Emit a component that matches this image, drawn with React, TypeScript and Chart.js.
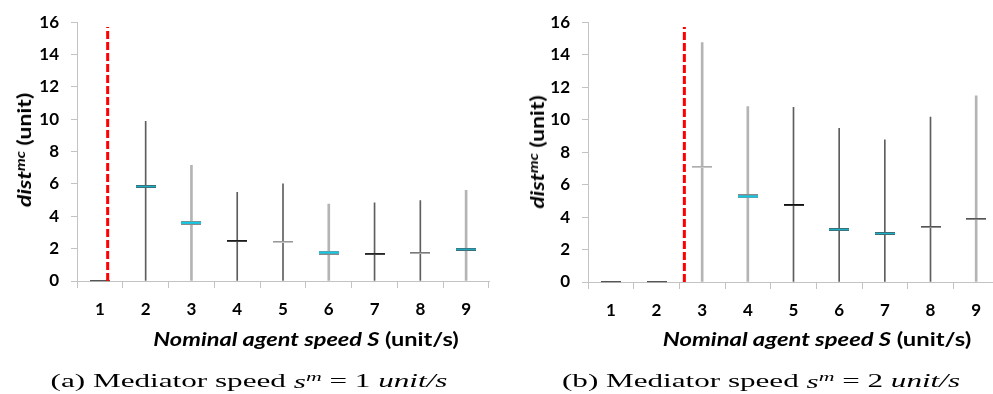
import React, { useEffect, useLayoutEffect, useRef, useState } from 'react';
import { Chart, registerables } from 'chart.js';
Chart.register(...registerables);

// ---------- data ----------
const categories = ['1', '2', '3', '4', '5', '6', '7', '8', '9'];
const yMin = 0;
const yMax = 16;
const yStep = 2;

// panel (a): mediator speed 1
const maxA = [0, 9.87, 7.15, 5.48, 6.0, 4.76, 4.84, 4.97, 5.6];
const meanA = [0, 5.84, 3.6, 2.49, 2.41, 1.76, 1.7, 1.76, 1.96];
const thresholdA = 1.17;

// panel (b): mediator speed 2
const maxB = [0, 0, 14.74, 10.8, 10.76, 9.46, 8.76, 10.15, 11.47];
const meanB = [0, 0, 7.11, 5.27, 4.72, 3.23, 2.99, 3.37, 3.86];
const thresholdB = 2.61;

const thresholdTop = 15.7;

// ---------- styles (kept apart from data) ----------
const whiskerStyleA = ['none', 'dark', 'light', 'dark', 'dark', 'light', 'dark', 'dark', 'light'];
const markStyleA = ['dark', 'teal', 'cyan', 'black', 'gray', 'cyan', 'black', 'dark', 'teal'];
const whiskerStyleB = ['none', 'none', 'light', 'light', 'dark', 'dark', 'dark', 'dark', 'light'];
const markStyleB = ['dark', 'dark', 'gray', 'cyan', 'black', 'teal', 'teal', 'dark', 'dark'];

function makeMark(kind: string): HTMLCanvasElement {
  const c = document.createElement('canvas');
  const w = 20;
  let rows: string[] = [];
  if (kind === 'cyan') rows = ['#8a8a8a', '#10cbe8', '#10cbe8', '#8a8a8a'];
  else if (kind === 'teal') rows = ['#3d6f78', '#1ab3c9', '#3d6f78'];
  else if (kind === 'black') rows = ['#111111', '#444444'];
  else if (kind === 'gray') rows = ['#9a9a9a', '#c8c8c8'];
  else rows = ['#555555', '#aaaaaa'];
  c.width = w;
  c.height = rows.length;
  const ctx = c.getContext('2d')!;
  rows.forEach((col, i) => {
    ctx.fillStyle = col;
    ctx.fillRect(0, i, w, 1);
  });
  return c;
}

const tickFont = { family: 'Lato', weight: 'bold' as const, size: 17 };
const axisColor = '#c3c3c3';

function makeConfig(
  maxV: number[],
  meanV: number[],
  wStyle: string[],
  mStyle: string[],
  threshold: number,
  yAxisWidth: number,
  xAxisHeight: number,
  padRight: number
): any {
  const light = maxV.map((m, i) => (wStyle[i] === 'light' ? [yMin, m] : null));
  const dark = maxV.map((m, i) => (wStyle[i] === 'dark' ? [yMin, m] : null));
  const lo = 0.5;
  const hi = categories.length + 0.5;
  return {
    type: 'bar',
    data: {
      labels: categories,
      datasets: [
        {
          type: 'line',
          order: 0,
          xAxisID: 'x2',
          yAxisID: 'y',
          data: [
            { x: threshold, y: yMin },
            { x: threshold, y: thresholdTop },
          ],
          borderColor: '#ff0000',
          borderWidth: 3,
          borderDash: [8, 3],
          pointRadius: 0,
          clip: false,
        },
        {
          type: 'line',
          order: 1,
          data: meanV,
          showLine: false,
          pointStyle: mStyle.map(makeMark),
          pointRadius: 10,
          clip: false,
        },
        {
          type: 'bar',
          order: 2,
          data: dark,
          backgroundColor: '#5e5e5e',
          barThickness: 1,
          grouped: false,
          borderWidth: 0,
        },
        {
          type: 'bar',
          order: 3,
          data: light,
          backgroundColor: '#b4b4b4',
          barThickness: 2,
          grouped: false,
          borderWidth: 0,
        },
      ],
    },
    options: {
      responsive: false,
      animation: false,
      events: [],
      plugins: { legend: { display: false }, tooltip: { enabled: false } },
      layout: { padding: { top: 20, right: padRight, left: 0, bottom: 0 } },
      scales: {
        x: {
          type: 'category',
          offset: true,
          grid: { display: true, drawOnChartArea: false, offset: true, tickLength: 7, color: axisColor },
          border: { color: axisColor },
          ticks: { font: tickFont, color: '#000', padding: 11, maxRotation: 0 },
          afterFit: (s: any) => {
            s.height = xAxisHeight;
          },
        },
        x2: {
          type: 'linear',
          display: false,
          offset: false,
          bounds: 'data',
          min: lo,
          max: hi,
          afterBuildTicks: (s: any) => {
            s.min = lo;
            s.max = hi;
          },
        },
        y: {
          min: yMin,
          max: yMax,
          ticks: { stepSize: yStep, font: tickFont, color: '#000', padding: 12 },
          grid: { drawOnChartArea: false, tickLength: 6, color: axisColor },
          border: { color: axisColor },
          afterFit: (s: any) => {
            s.width = yAxisWidth;
          },
        },
      },
    },
  };
}

function Panel(props: { left: number; width: number; config: any }) {
  const ref = useRef<HTMLCanvasElement>(null);
  useEffect(() => {
    if (!ref.current) return;
    const chart = new Chart(ref.current, props.config);
    return () => chart.destroy();
  }, []);
  return (
    <canvas
      ref={ref}
      width={props.width}
      height={394}
      style={{ position: 'absolute', left: props.left, top: 0, width: props.width, height: 394 }}
    />
  );
}

function FitText(props: {
  cx: number;
  cy: number;
  target: number;
  rotate?: boolean;
  font: React.CSSProperties;
  children: React.ReactNode;
}) {
  const ref = useRef<HTMLSpanElement>(null);
  const [s, setS] = useState(1);
  useLayoutEffect(() => {
    if (ref.current) {
      const w = ref.current.offsetWidth;
      if (w > 0) setS(props.target / w);
    }
  }, [props.target]);
  return (
    <span
      ref={ref}
      style={{
        position: 'absolute',
        left: props.cx,
        top: props.cy,
        whiteSpace: 'nowrap',
        lineHeight: 1,
        color: '#000',
        ...props.font,
        transform: `translate(-50%,-50%)${props.rotate ? ' rotate(-90deg)' : ''} scaleX(${s})`,
      }}
    >
      {props.children}
    </span>
  );
}

const titleFont: React.CSSProperties = { fontFamily: 'Lato', fontWeight: 'bold', fontSize: 18 };
const captionFont: React.CSSProperties = { fontFamily: '"Liberation Serif"', fontSize: 19 };

const yTitle = (
  <>
    <i>
      dist<sup style={{ fontSize: '0.7em', verticalAlign: '0.45em' }}>mc</sup>
    </i>{' '}
    (unit)
  </>
);
const xTitle = (
  <>
    <i>Nominal agent speed S</i> (unit/s)
  </>
);

export default function App() {
  const cfgA = makeConfig(maxA, meanA, whiskerStyleA, markStyleA, thresholdA, 77, 113, 11);
  const cfgB = makeConfig(maxB, meanB, whiskerStyleB, markStyleB, thresholdB, 88, 112, 8);
  return (
    <div
      style={{
        position: 'absolute',
        left: 0,
        top: 0,
        width: 993,
        height: 394,
        overflow: 'hidden',
        background: '#fff',
      }}
    >
      <Panel left={0} width={500} config={cfgA} />
      <Panel left={500} width={510} config={cfgB} />
      <FitText cx={24} cy={150} target={114} rotate font={titleFont}>
        {yTitle}
      </FitText>
      <FitText cx={537} cy={151.5} target={113} rotate font={titleFont}>
        {yTitle}
      </FitText>
      <FitText cx={305.5} cy={339} target={305} font={titleFont}>
        {xTitle}
      </FitText>
      <FitText cx={817} cy={339} target={308} font={titleFont}>
        {xTitle}
      </FitText>
      <FitText cx={248.5} cy={380} target={397} font={captionFont}>
        (a) Mediator speed{' '}
        <i>
          s<sup style={{ fontSize: '0.7em', verticalAlign: '0.5em' }}>m</sup>
        </i>{' '}
        = 1 <i>unit/s</i>
      </FitText>
      <FitText cx={761} cy={380} target={398} font={captionFont}>
        (b) Mediator speed{' '}
        <i>
          s<sup style={{ fontSize: '0.7em', verticalAlign: '0.5em' }}>m</sup>
        </i>{' '}
        = 2 <i>unit/s</i>
      </FitText>
    </div>
  );
}
